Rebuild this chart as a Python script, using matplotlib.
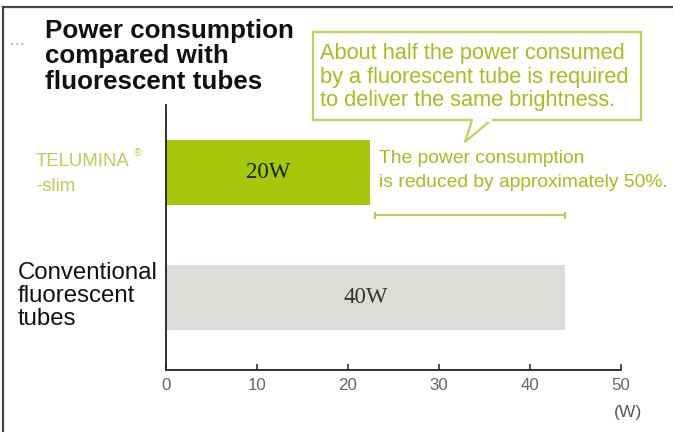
import matplotlib
matplotlib.use('Agg')
from matplotlib import pyplot as plt
from matplotlib import font_manager
from matplotlib.lines import Line2D
from matplotlib.patches import Rectangle, Polygon

W, H = 673, 432

# data
categories = ['Conventional\nfluorescent\ntubes', 'TELUMINA -slim']
bar_values = [43.9, 22.4]          # drawn bar lengths [W]
bar_labels = ['40W', '20W']
x_ticks = [0, 10, 20, 30, 40, 50]

green = '#a6c70c'
text_green = '#9cc21c'
light_green = '#b8cf55'
grey_bar = '#dddcd9'

# narrow face if there is one, otherwise regular face drawn a bit smaller
names = {f.name for f in font_manager.fontManager.ttflist}
if 'Liberation Sans Narrow' in names:
    narrow, nscale = 'Liberation Sans Narrow', 1.0
else:
    narrow, nscale = 'Liberation Sans', 0.84
plt.rcParams['font.family'] = ['Liberation Sans', 'DejaVu Sans']


# pixel helpers (origin top left, like the reference)
def fx(px): return px / W
def fy(py): return 1 - py / H


fig = plt.figure(figsize=(W / 100, H / 100), dpi=100)
ax = fig.add_axes([fx(166), fy(370), (620.7 - 166) / W, (370 - 105) / H])

ypos = [0, 1]
ax.barh(ypos, bar_values, height=0.52, color=[grey_bar, green], zorder=2)
for y, v, lab, c in zip(ypos, bar_values, bar_labels, ['#333333', '#1e1e1e']):
    ax.text(v / 2, y, lab, ha='center', va='center', family='Liberation Serif',
            fontsize=16.5, color=c)

ax.set_xlim(0, 50)
ax.set_ylim(-0.58, 1.54)
ax.set_xticks(x_ticks)
ax.set_xticklabels([str(t) for t in x_ticks], family=narrow, fontsize=14.5 * nscale,
                   color='#666666')
ax.set_yticks([])
ax.tick_params(axis='x', direction='in', length=4, width=1.2, pad=6, color='#333333')
for s in ['top', 'right']:
    ax.spines[s].set_visible(False)
for s in ['left', 'bottom']:
    ax.spines[s].set_linewidth(1.3)
    ax.spines[s].set_color('#222222')

# reduction bracket between the two bar ends
by = 0.66
ax.plot([bar_values[1] + 0.6, bar_values[0]], [by, by], color=light_green, lw=1.5, zorder=3)
for xe in [bar_values[1] + 0.6, bar_values[0]]:
    ax.plot([xe, xe], [by - 0.02, by + 0.02], color=light_green, lw=1.5, zorder=3)

# outer frame (left and top only)
fig.add_artist(Line2D([fx(3), fx(3)], [fy(6.5), 0], color='#444444', lw=1.6))
fig.add_artist(Line2D([fx(3), 1], [fy(6.5), fy(6.5)], color='#444444', lw=1.6))

# title
fig.text(fx(10), fy(49), '···', color='#c2d09c', fontsize=11, weight='bold', va='baseline')
for i, line in enumerate(['Power consumption', 'compared with', 'fluorescent tubes']):
    fig.text(fx(45), fy(38 + 25.5 * i), line, fontsize=18.7, weight='bold',
             color='#111111', va='baseline')

# callout box with tail
box = Rectangle((fx(313), fy(120)), (641 - 313) / W, (120 - 32) / H, transform=fig.transFigure,
                facecolor='white', edgecolor='#bdd35c', lw=1.6)
fig.add_artist(box)
tail = Polygon([(fx(472), fy(120)), (fx(465), fy(142)), (fx(491), fy(120))], closed=False,
               transform=fig.transFigure, facecolor='white', edgecolor='#bdd35c', lw=1.6)
fig.add_artist(tail)
fig.add_artist(Line2D([fx(473.5), fx(489.5)], [fy(120), fy(120)], color='white', lw=2.2))
callout = ['About half the power consumed', 'by a fluorescent tube is required',
           'to deliver the same brightness.']
for i, line in enumerate(callout):
    fig.text(fx(320), fy(59 + 23.5 * i), line, fontsize=15.7, color=text_green, va='baseline')

# reduction note
for i, line in enumerate(['The power consumption', 'is reduced by approximately 50%.']):
    fig.text(fx(379), fy(163 + 23.5 * i), line, family=narrow, fontsize=16.5 * nscale,
             color=text_green, va='baseline')

# category labels
fig.text(fx(36), fy(165.5), 'TELUMINA', family=narrow, fontsize=16 * nscale,
         color=light_green, va='baseline')
fig.text(fx(134), fy(156), '®', fontsize=7.5, color=light_green, va='baseline')
fig.text(fx(36), fy(191), '-slim', family=narrow, fontsize=16 * nscale,
         color=light_green, va='baseline')
for i, line in enumerate(categories[0].split('\n')):
    fig.text(fx(18), fy(279 + 23 * i), line, fontsize=17.3, color='#111111', va='baseline')

fig.text(fx(628), fy(417), '(W)', family=narrow, fontsize=15 * nscale, color='#555555',
         ha='center', va='baseline')

fig.savefig('out.png', dpi=100)
